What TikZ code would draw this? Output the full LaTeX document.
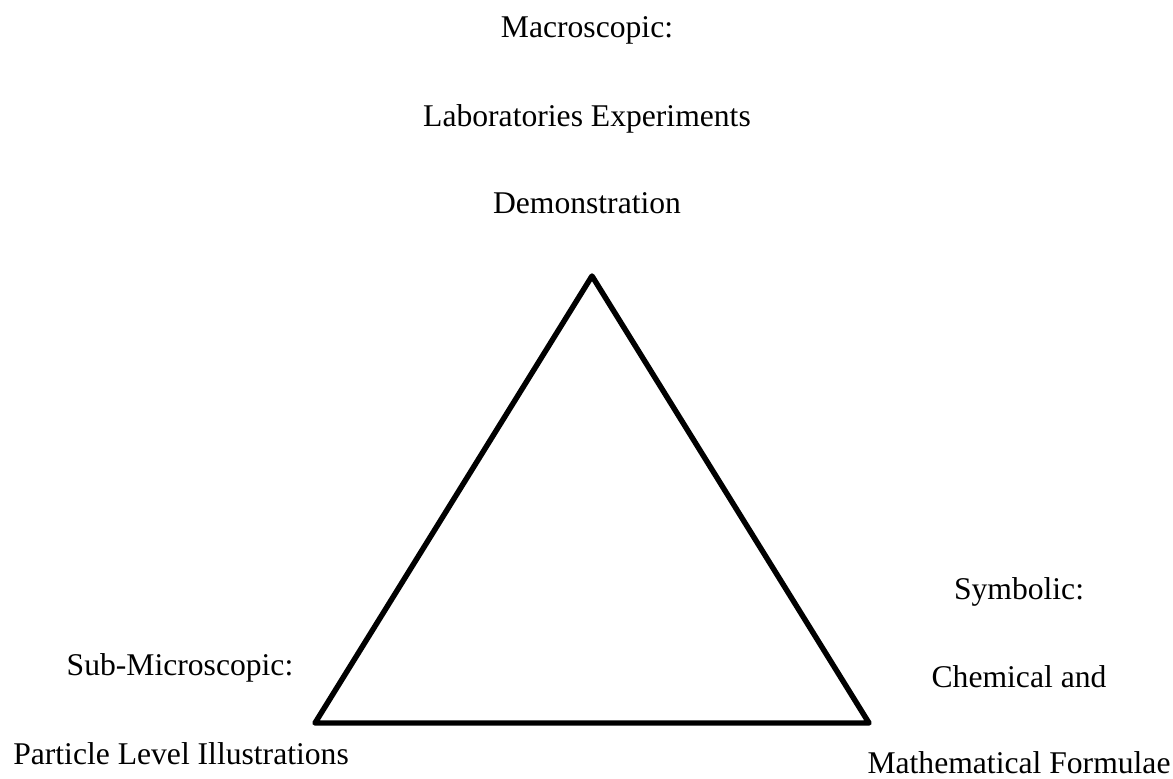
\documentclass[tikz,border=0pt]{standalone}
\usepackage{fontspec}
\setmainfont{Liberation Serif}
\begin{document}
\begin{tikzpicture}[
      x=0.02cm, y=-0.02cm,
      label text/.style={anchor=base, inner sep=0pt, font=\fontsize{18}{22}\selectfont},
      edge line/.style={line width=3.1pt, line join=round, line cap=round}
    ]
    \useasboundingbox (0, 0) rectangle (1173, 778);

    % Corners of the triangle
    \coordinate (top) at (592, 276);
    \coordinate (left) at (315, 723);
    \coordinate (right) at (869, 723);

    % Triangle
    \draw [edge line] (top) -- (left) -- (right) -- cycle;

    % Macroscopic level
    \node [label text] (macro) at (587, 37) {Macroscopic:};
    \node [label text] (lab) at (587, 126) {Laboratories Experiments};
    \node [label text] (demo) at (587, 213) {Demonstration};

    % Sub-microscopic level
    \node [label text] (submicro) at (180, 675) {Sub-Microscopic:};
    \node [label text] (particle) at (181, 764) {Particle Level Illustrations};

    % Symbolic level
    \node [label text] (symbolic) at (1019, 599) {Symbolic:};
    \node [label text] (chem) at (1019, 687) {Chemical and};
    \node [label text] (math) at (1019, 773) {Mathematical Formulae};
  \end{tikzpicture}
\end{document}
